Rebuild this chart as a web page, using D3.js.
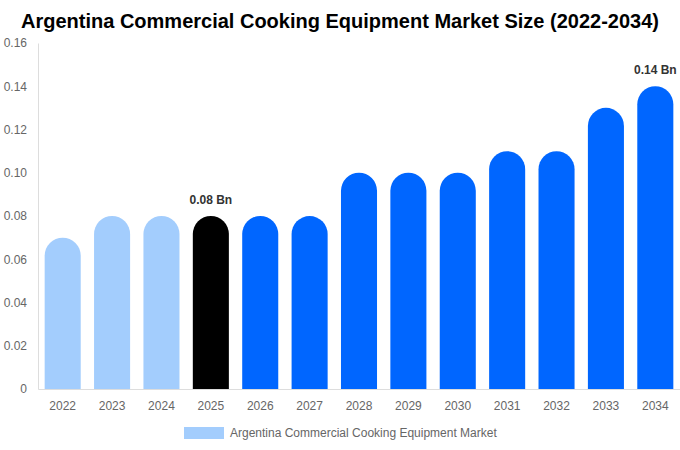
<!DOCTYPE html>
<html>
<head>
<meta charset="utf-8">
<script src="https://cdn.jsdelivr.net/npm/d3@7"></script>
<style>
  body { margin: 0; background: #fff; }
  svg { font-family: "Liberation Sans", Arial, sans-serif; }
</style>
</head>
<body>
<div id="chart"></div>
<script>
// données
const years = ["2022", "2023", "2024", "2025", "2026", "2027", "2028", "2029", "2030", "2031", "2032", "2033", "2034"];
const values = [0.07, 0.08, 0.08, 0.08, 0.08, 0.08, 0.10, 0.10, 0.10, 0.11, 0.11, 0.13, 0.14];
const yTicks = [0, 0.02, 0.04, 0.06, 0.08, 0.10, 0.12, 0.14, 0.16];
const labelled = { "2025": "0.08 Bn", "2034": "0.14 Bn" };

const W = 680, H = 450;
const margin = { top: 43, right: 0, bottom: 61, left: 38 };
const width = W - margin.left - margin.right;
const height = H - margin.top - margin.bottom;

const colorOf = (yr) => {
    const n = +yr;
    if (n < 2025) return "#a3cdfd";
    if (n === 2025) return "#000000";
    return "#0066ff";
};

const svg = d3.select("#chart").append("svg")
    .attr("width", W)
    .attr("height", H);

svg.append("text")
    .attr("x", W / 2)
    .attr("y", 28)
    .attr("text-anchor", "middle")
    .attr("font-size", "20px")
    .attr("font-weight", "bold")
    .attr("fill", "#000")
    .text("Argentina Commercial Cooking Equipment Market Size (2022-2034)");

const g = svg.append("g")
    .attr("transform", `translate(${margin.left},${margin.top})`);

const x = d3.scaleBand()
    .domain(years)
    .range([0, width])
    .paddingInner(0.27)
    .paddingOuter(0.135);

const y = d3.scaleLinear()
    .domain([0, 0.16])
    .range([height, 0]);

// axe Y
const yAxis = g.append("g")
    .call(d3.axisLeft(y)
        .tickValues(yTicks)
        .tickSize(0)
        .tickPadding(11)
        .tickFormat(d => d === 0 ? "0" : d3.format(".2f")(d)));
yAxis.select(".domain").attr("stroke", "#ddd");
yAxis.selectAll("text").attr("font-size", "12px").attr("fill", "#666");

// axe X
const xAxis = g.append("g")
    .attr("transform", `translate(0,${height})`)
    .call(d3.axisBottom(x).tickSize(0).tickPadding(12));
xAxis.select(".domain").attr("stroke", "#ddd");
xAxis.selectAll("text").attr("font-size", "12px").attr("fill", "#666");

// barres à sommet arrondi
const bw = x.bandwidth();
const r = bw / 2;
const barPath = (d, i) => {
    const x0 = x(years[i]);
    const yTop = y(d);
    const yBase = y(0);
    return `M${x0},${yBase} L${x0},${yTop + r} A${r},${r} 0 0 1 ${x0 + bw},${yTop + r} L${x0 + bw},${yBase} Z`;
};

g.selectAll(".bar")
    .data(values)
    .enter()
    .append("path")
    .attr("class", "bar")
    .attr("d", barPath)
    .attr("fill", (d, i) => colorOf(years[i]));

// étiquettes de valeur
g.selectAll(".val")
    .data(years.filter(yr => labelled[yr]))
    .enter()
    .append("text")
    .attr("x", yr => x(yr) + bw / 2)
    .attr("y", yr => y(values[years.indexOf(yr)]) - 12)
    .attr("text-anchor", "middle")
    .attr("font-size", "12px")
    .attr("font-weight", "bold")
    .attr("fill", "#333")
    .text(yr => labelled[yr]);

// légende
const legend = svg.append("g").attr("transform", "translate(184,427)");
legend.append("rect")
    .attr("width", 40)
    .attr("height", 12)
    .attr("fill", "#a3cdfd");
legend.append("text")
    .attr("x", 46)
    .attr("y", 6)
    .attr("dy", "0.35em")
    .attr("font-size", "12px")
    .attr("fill", "#666")
    .text("Argentina Commercial Cooking Equipment Market");
</script>
</body>
</html>
